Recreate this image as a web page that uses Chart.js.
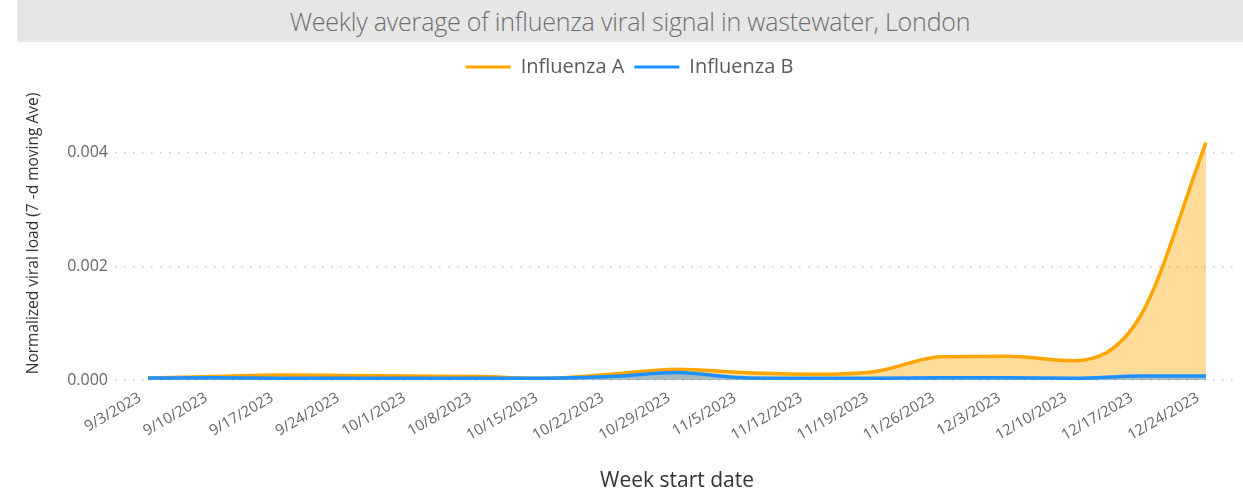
<!DOCTYPE html>
<html>
<head>
<meta charset="utf-8">
<script src="https://cdn.jsdelivr.net/npm/chart.js@4"></script>
<style>
  html, body { margin: 0; padding: 0; background: #fff; }
  body { width: 1243px; height: 497px; position: relative; overflow: hidden; font-family: "Open Sans", sans-serif; }
  #title {
    position: absolute; left: 17px; top: 0; width: 1226px; height: 42px;
    background: #e6e6e6; color: #6e6e6e; font-size: 25px; font-weight: 300;
    line-height: 42px; text-align: center; letter-spacing: -0.2px;
  }
  #wrap { position: absolute; left: 0; top: 42px; width: 1243px; height: 455px; }
</style>
</head>
<body>
<div id="title">Weekly average of influenza viral signal in wastewater, London</div>
<div id="wrap"><canvas id="fluChart"></canvas></div>
<script>
  // week start dates (x categories)
  var weeks = ["9/3/2023", "9/10/2023", "9/17/2023", "9/24/2023", "10/1/2023", "10/8/2023",
    "10/15/2023", "10/22/2023", "10/29/2023", "11/5/2023", "11/12/2023", "11/19/2023",
    "11/26/2023", "12/3/2023", "12/10/2023", "12/17/2023", "12/24/2023"];

  // normalized viral load
  var fluA = [0.000035, 0.00006, 0.00009, 0.00008, 0.00007, 0.00006, 0.00003, 0.0001, 0.00019,
    0.00013, 0.0001, 0.00015, 0.00041, 0.00042, 0.00034, 0.00111, 0.00418];
  var fluB = [0.000035, 0.00004, 0.00003, 0.00003, 0.00003, 0.00003, 0.00003, 0.00006, 0.00013,
    0.00004, 0.00003, 0.00003, 0.00004, 0.00004, 0.00003, 0.00007, 0.00007];

  var yTicks = [0, 0.002, 0.004];

  var FONT = "'Open Sans', sans-serif";

  new Chart(document.getElementById("fluChart"), {
    type: "line",
    data: {
      labels: weeks,
      datasets: [
        { label: "Influenza A", data: fluA, borderColor: "#ffa500", backgroundColor: "rgba(255,165,0,0.4)",
          borderWidth: 3.5, fill: "origin", pointRadius: 0, cubicInterpolationMode: "monotone", clip: false, order: 1 },
        { label: "Influenza B", data: fluB, borderColor: "#1e90ff", backgroundColor: "rgba(30,144,255,0.4)",
          borderWidth: 3.5, fill: "origin", pointRadius: 0, cubicInterpolationMode: "monotone", clip: false, order: 0 }
      ]
    },
    options: {
      responsive: true, maintainAspectRatio: false, animation: false,
      layout: { padding: { left: 20, right: 4, top: 5, bottom: 0 } },
      plugins: {
        tooltip: { enabled: false },
        legend: {
          labels: {
            font: { family: FONT, size: 20 }, color: "#5a5a5a", boxWidth: 45, boxHeight: 3, padding: 10,
            generateLabels: function (chart) {
              return chart.data.datasets.map(function (d, i) {
                return { text: d.label, fillStyle: d.borderColor, strokeStyle: d.borderColor, lineWidth: 0,
                  fontColor: "#5a5a5a", datasetIndex: i, hidden: false };
              });
            }
          }
        }
      },
      scales: {
        x: {
          offset: true,
          grid: { display: false },
          border: { display: false },
          ticks: { font: { family: FONT, size: 15 }, color: "#666", maxRotation: 30, minRotation: 30, autoSkip: false,
            padding: 1, labelOffset: -8 },
          title: { display: true, text: "Week start date", font: { family: FONT, size: 21 }, color: "#333", padding: { top: 4, bottom: 3 } },
          afterFit: function (axis) { axis.height = 117; }
        },
        y: {
          min: 0, max: 0.00516,
          grid: { color: "#c8c8c8", lineWidth: 1.5, drawTicks: false },
          border: { display: false, dash: [1.5, 7.5] },
          ticks: { font: { family: FONT, size: 16 }, color: "#666", padding: 7,
            callback: function (v) { return v.toFixed(3); } },
          afterBuildTicks: function (axis) { axis.ticks = yTicks.map(function (v) { return { value: v }; }); },
          title: { display: true, text: "Normalized viral load (7 -d moving Ave)", font: { family: FONT, size: 15.5 }, color: "#333", padding: { top: 4, bottom: 4 } },
          afterFit: function (axis) { axis.width = 95; }
        }
      }
    }
  });
</script>
</body>
</html>
